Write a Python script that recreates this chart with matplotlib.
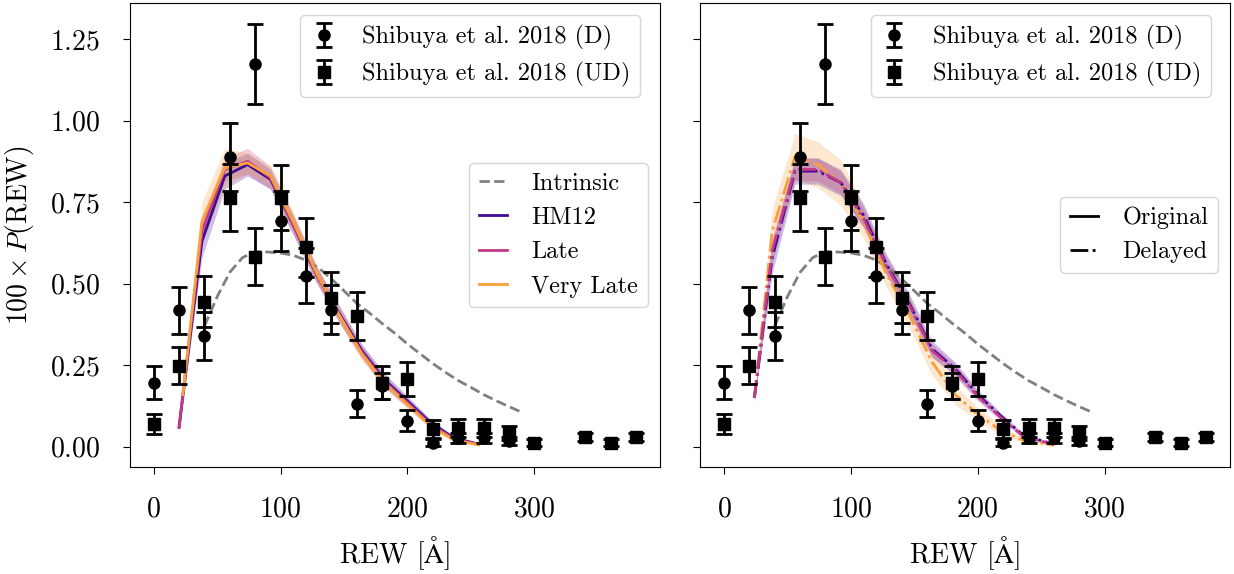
import numpy as np
import matplotlib
matplotlib.use("Agg")
import matplotlib.pyplot as plt
from matplotlib.lines import Line2D

plt.rcParams["font.family"] = "serif"
plt.rcParams["font.serif"] = ["cmr10"]
plt.rcParams["mathtext.fontset"] = "cm"
plt.rcParams["axes.formatter.use_mathtext"] = True
plt.rcParams["axes.unicode_minus"] = False
plt.rcParams["legend.handlelength"] = 1.15
plt.rcParams["legend.handletextpad"] = 1.0

# Shibuya et al. 2018 REW distributions
rew_d = [0, 20, 40, 60, 80, 100, 120, 140, 160, 180, 200, 220, 240, 260, 280]
p_d = [0.197, 0.418, 0.340, 0.888, 1.173, 0.692, 0.524, 0.420, 0.132, 0.185, 0.080, 0.013, 0.027, 0.027, 0.018]
p_d_err = [0.050, 0.073, 0.073, 0.105, 0.123, 0.093, 0.084, 0.075, 0.041, 0.040, 0.032, 0.010, 0.015, 0.015, 0.012]

rew_ud = [0, 20, 40, 60, 80, 100, 120, 140, 160, 180, 200, 220, 240, 260, 280, 300, 340, 360, 380]
p_ud = [0.069, 0.249, 0.445, 0.764, 0.583, 0.764, 0.611, 0.457, 0.401, 0.197, 0.208,
        0.055, 0.057, 0.057, 0.042, 0.013, 0.029, 0.013, 0.029]
p_ud_err = [0.030, 0.058, 0.077, 0.102, 0.088, 0.100, 0.090, 0.078, 0.074, 0.050, 0.053,
            0.028, 0.028, 0.028, 0.022, 0.010, 0.012, 0.010, 0.012]

# intrinsic distribution
rew_int = [40, 50, 60, 70, 80, 90, 100, 110, 120, 130, 140, 150, 160, 170, 180,
           190, 200, 210, 220, 230, 240, 250, 260, 270, 280, 290]
p_int = [0.37, 0.46, 0.535, 0.58, 0.598, 0.597, 0.594, 0.587, 0.572, 0.548, 0.515, 0.478,
         0.44, 0.41, 0.378, 0.348, 0.315, 0.285, 0.255, 0.228, 0.203, 0.182, 0.160, 0.141,
         0.123, 0.106]

# model grid
rew_mod = [20, 38, 56, 74, 92, 110, 128, 146, 164, 182, 200, 218, 236, 256]
rew_vl = [23, 38, 56, 74, 92, 110, 128, 146, 164, 182, 200, 218, 236, 256]
rew_del = [24, 38, 56, 74, 92, 110, 128, 146, 164, 182, 200, 218, 236, 260]

# original reionization histories
hm12 = [0.06, 0.63, 0.83, 0.865, 0.82, 0.68, 0.53, 0.41, 0.295, 0.205, 0.14, 0.075, 0.028, 0.008]
hm12_err = [0.01, 0.05, 0.04, 0.035, 0.03, 0.03, 0.025, 0.025, 0.02, 0.02, 0.015, 0.01, 0.006, 0.003]
late = [0.06, 0.66, 0.85, 0.875, 0.825, 0.68, 0.53, 0.405, 0.29, 0.20, 0.135, 0.07, 0.025, 0.007]
late_err = [0.01, 0.04, 0.035, 0.04, 0.035, 0.03, 0.025, 0.025, 0.02, 0.02, 0.015, 0.01, 0.006, 0.003]
vlate = [0.16, 0.69, 0.855, 0.87, 0.83, 0.69, 0.535, 0.405, 0.285, 0.195, 0.13, 0.065, 0.022, 0.006]
vlate_err = [0.01, 0.06, 0.06, 0.03, 0.03, 0.03, 0.025, 0.02, 0.02, 0.015, 0.012, 0.01, 0.005, 0.003]

# delayed reionization histories
hm12_del = [0.15, 0.58, 0.845, 0.845, 0.81, 0.71, 0.56, 0.44, 0.30, 0.24, 0.16, 0.095, 0.035, 0.008]
hm12_del_err = [0.01, 0.05, 0.04, 0.04, 0.04, 0.035, 0.03, 0.03, 0.025, 0.02, 0.015, 0.01, 0.006, 0.003]
late_del = [0.15, 0.60, 0.85, 0.85, 0.81, 0.70, 0.555, 0.435, 0.295, 0.235, 0.155, 0.09, 0.032, 0.007]
late_del_err = [0.01, 0.04, 0.035, 0.035, 0.035, 0.03, 0.03, 0.025, 0.02, 0.02, 0.015, 0.01, 0.006, 0.003]
vlate_del = [0.15, 0.66, 0.89, 0.865, 0.81, 0.69, 0.53, 0.405, 0.26, 0.16, 0.10, 0.05, 0.02, 0.005]
vlate_del_err = [0.01, 0.07, 0.07, 0.07, 0.07, 0.05, 0.04, 0.04, 0.04, 0.03, 0.02, 0.015, 0.008, 0.003]

c_hm12, c_late, c_vlate = "#3d0a98", "#c03a85", "#f9a03c"

fig, (ax1, ax2) = plt.subplots(1, 2, figsize=(12.34, 5.74), dpi=100, sharey=True)
fig.subplots_adjust(left=0.105, right=0.997, top=0.995, bottom=0.186, wspace=0.075)


def band(ax, x, y, err, color, ls, label=None):
    y = np.array(y)
    err = np.array(err)
    ax.fill_between(x, y - err, y + err, color=color, alpha=0.25, lw=0)
    ax.plot(x, y, color=color, ls=ls, lw=2, label=label)


def data(ax):
    kw = dict(color="k", lw=2, capsize=6, capthick=2, ls="none", zorder=5)
    h1 = ax.errorbar(rew_d, p_d, yerr=p_d_err, fmt="o", ms=8, **kw)
    h2 = ax.errorbar(rew_ud, p_ud, yerr=p_ud_err, fmt="s", ms=8, **kw)
    leg = ax.legend([h1, h2], ["Shibuya et al. 2018 (D)", "Shibuya et al. 2018 (UD)"],
                    loc="upper right", bbox_to_anchor=(0.986, 1.0), fontsize=17.5)
    ax.add_artist(leg)


# left panel: original histories
ax1.plot(rew_int, p_int, color="gray", ls="--", lw=2, label="Intrinsic")
band(ax1, rew_mod, hm12, hm12_err, c_hm12, "-", "HM12")
band(ax1, rew_mod, late, late_err, c_late, "-", "Late")
band(ax1, rew_vl, vlate, vlate_err, c_vlate, "-", "Very Late")
data(ax1)
ax1.legend(loc="center right", fontsize=17.5)

# right panel: delayed histories
ax2.plot(rew_int, p_int, color="gray", ls="--", lw=2)
band(ax2, rew_del, vlate_del, vlate_del_err, c_vlate, "-.")
band(ax2, rew_del, hm12_del, hm12_del_err, c_hm12, "-.")
band(ax2, rew_del, late_del, late_del_err, c_late, "-.")
data(ax2)
style = [Line2D([], [], color="k", ls="-", lw=2), Line2D([], [], color="k", ls="-.", lw=2)]
ax2.legend(style, ["Original", "Delayed"], loc="center right", fontsize=17.5)

for ax in (ax1, ax2):
    ax.set_xlabel(r"REW [$\mathrm{\AA}$]", fontsize=20, labelpad=8)
    ax.set_xticks([0, 100, 200, 300])
    ax.tick_params(labelsize=20, length=5, pad=16)
ax1.set_yticks([0, 0.25, 0.5, 0.75, 1.0, 1.25])
ax1.set_ylabel(r"$100 \times P(\mathrm{REW})$", fontsize=20, labelpad=10)

fig.savefig("out.png", dpi=100)
